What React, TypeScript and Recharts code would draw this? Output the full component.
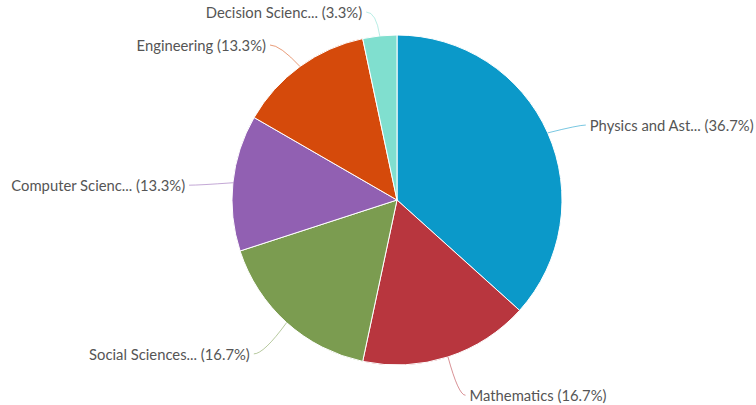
import * as React from "react";
import { PieChart, Pie, Cell } from "recharts";

const subjects = [
  "Physics and Ast...",
  "Mathematics",
  "Social Sciences...",
  "Computer Scienc...",
  "Engineering",
  "Decision Scienc...",
];
const documentCounts = [11, 5, 5, 4, 4, 1];
const sliceColors = [
  "#0b99c9", // physics
  "#b8363e", // mathematics
  "#7b9c50", // social sciences
  "#9160b2", // computer science
  "#d54a0b", // engineering
  "#80dfcf", // decision sciences
];

const total = documentCounts.reduce((a, b) => a + b, 0);
const data = subjects.map((name, i) => ({ name, value: documentCounts[i] }));

const RADIAN = Math.PI / 180;

const renderLabel = (props: any) => {
  const { cx, cy, midAngle, outerRadius, name, value, index } = props;
  const cos = Math.cos(-midAngle * RADIAN);
  const sin = Math.sin(-midAngle * RADIAN);
  const dist = 34;
  const x0 = cx + outerRadius * cos;
  const y0 = cy + outerRadius * sin;
  const x1 = cx + (outerRadius + dist) * cos;
  // labels sit a little lower than the radial point, and never above the top edge
  const y1 = Math.max(12, cy + (outerRadius + dist) * sin + 6);
  const right = cos >= 0;
  const x2 = x1 + (right ? 7 : -10);
  const pct = ((value / total) * 100).toFixed(1);
  return (
    <g key={`lbl-${index}`}>
      <path
        d={`M${x0},${y0} Q${x1},${y1} ${x2},${y1}`}
        stroke={sliceColors[index % sliceColors.length]}
        strokeOpacity={0.55}
        strokeWidth={1}
        fill="none"
      />
      <text
        x={x2 + (right ? 4 : -4)}
        y={y1}
        textAnchor={right ? "start" : "end"}
        dominantBaseline="central"
        fill="#555"
        fontSize={14.8}
        fontFamily="Lato, 'Open Sans', sans-serif"
      >
        {`${name} (${pct}%)`}
      </text>
    </g>
  );
};

export default function App() {
  return (
    <div style={{ position: "absolute", left: 0, top: 0, width: 756, height: 405, background: "#fff" }}>
      <PieChart width={756} height={405} margin={{ top: 0, right: 0, bottom: 0, left: 0 }}>
        <Pie
          data={data}
          dataKey="value"
          nameKey="name"
          cx={397}
          cy={200}
          outerRadius={165}
          startAngle={90}
          endAngle={-270}
          stroke="#fff"
          strokeWidth={1}
          label={renderLabel}
          labelLine={false}
          isAnimationActive={false}
        >
          {data.map((entry, index) => (
            <Cell key={`cell-${index}`} fill={sliceColors[index % sliceColors.length]} />
          ))}
        </Pie>
      </PieChart>
    </div>
  );
}
